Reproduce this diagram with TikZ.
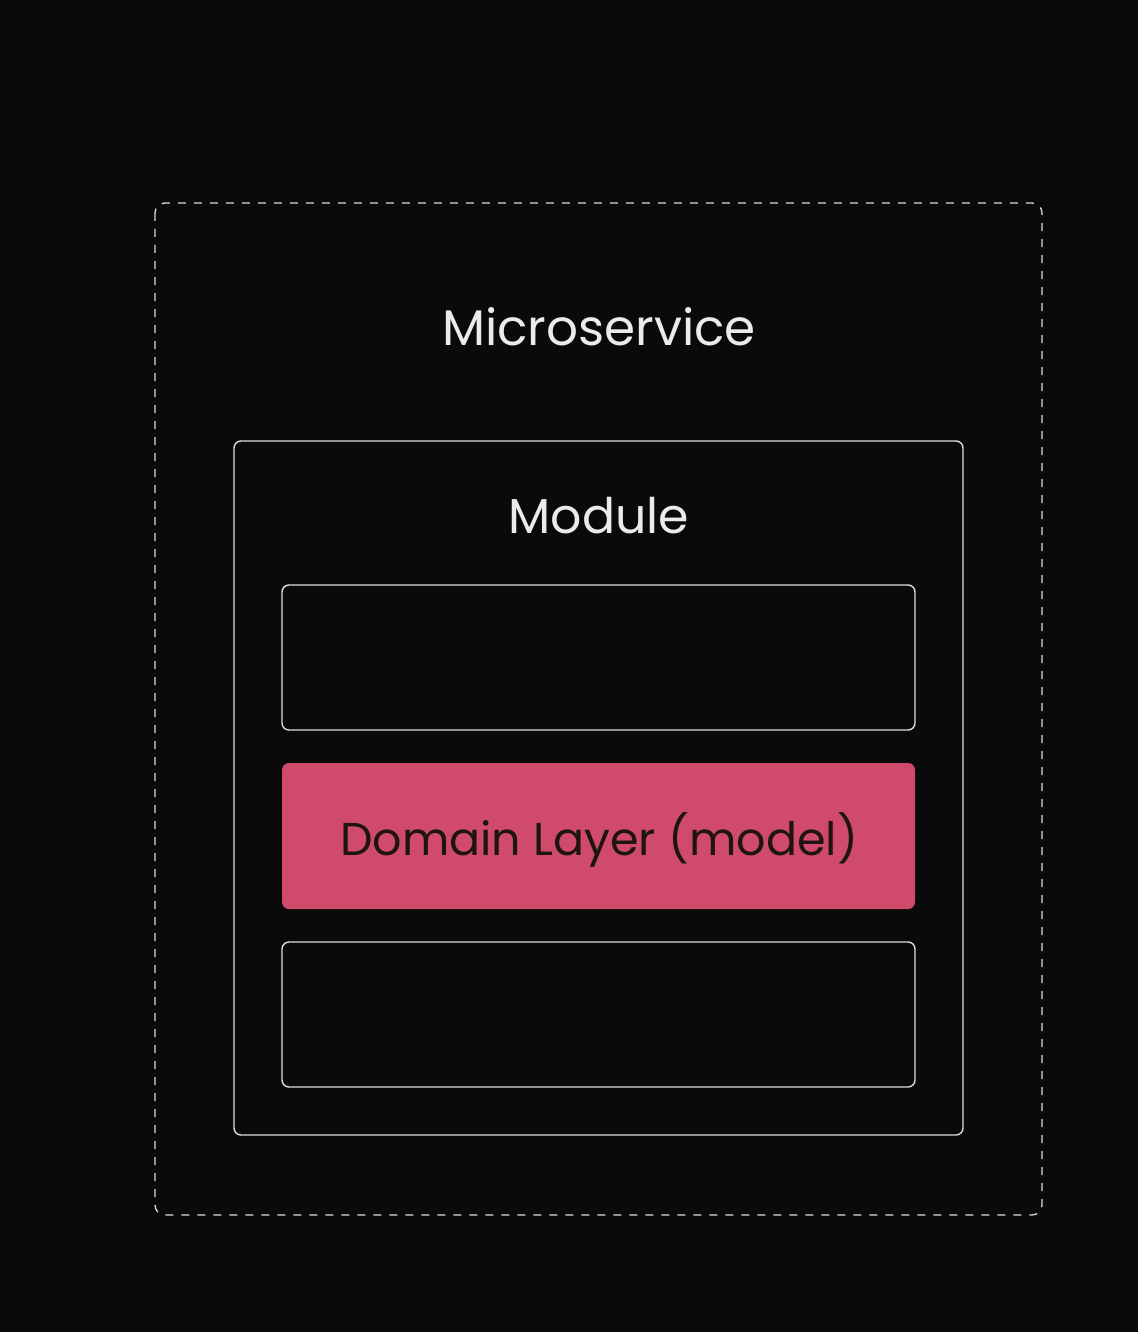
\documentclass[tikz,border=0pt]{standalone}
\usepackage{fontspec}
\setmainfont{Poppins}
\definecolor{bgcol}{HTML}{0A0A0A}
\definecolor{linecol}{HTML}{DDDDDD}
\definecolor{domaincol}{HTML}{D04B6B}
\definecolor{dtextcol}{HTML}{1E1414}
\tikzset{
  layerbox/.style={draw=linecol, line width=1.4pt, rounded corners=7pt},
  lbl/.style={text=white!92!black, font=\fontsize{50}{56}\selectfont, inner sep=0pt, anchor=base},
}
\begin{document}
\begin{tikzpicture}[x=1pt,y=-1pt]
\fill[bgcol] (0,0) rectangle (1138,1332);
\useasboundingbox (0,0) rectangle (1138,1332);
\draw[linecol, line width=1.3pt, dash pattern=on 8pt off 8pt, rounded corners=10pt] (155,203) rectangle (1042,1215);
\node[lbl] (micro) at (599,345) {Microservice};
\draw[layerbox] (234,441) rectangle (963,1135);
\node[lbl, font=\fontsize{49}{55}\selectfont] (module) at (599,533) {Module};
\draw[layerbox] (282,585) rectangle (915,730);
\fill[domaincol, rounded corners=7pt] (282,763) rectangle (915,909);
\node[lbl, text=dtextcol, font=\fontsize{46}{52}\selectfont] (domain) at (599,855) {Domain Layer (model)};
\draw[layerbox] (282,942) rectangle (915,1087);
\end{tikzpicture}
\end{document}
